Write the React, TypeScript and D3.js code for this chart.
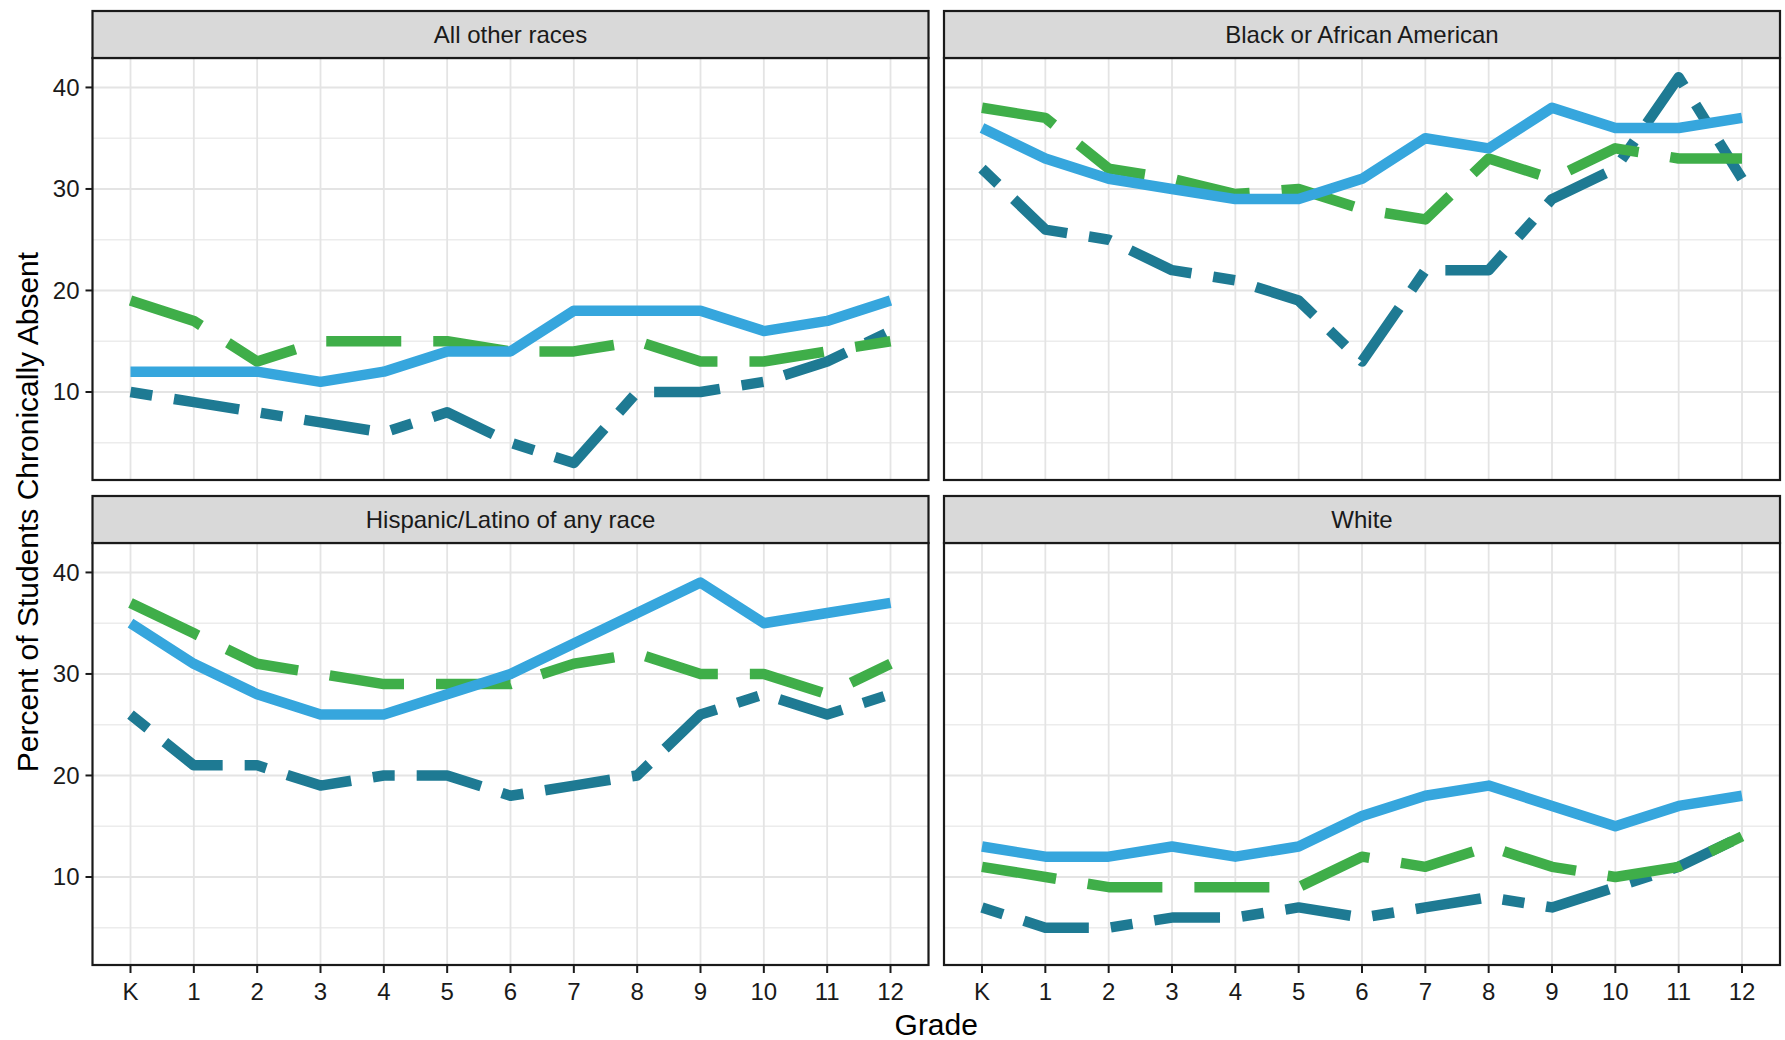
import React from "react";
import * as d3 from "d3";

// ---- Data ----
const grades = ["K", "1", "2", "3", "4", "5", "6", "7", "8", "9", "10", "11", "12"];
const races = ["All other races", "Black or African American", "Hispanic/Latino of any race", "White"];
const yTicks = [10, 20, 30, 40];
const yMinorTicks = [5, 15, 25, 35];

// solid light-blue series
const allOtherSolid = [12, 12, 12, 11, 12, 14, 14, 18, 18, 18, 16, 17, 19];
const blackSolid = [36, 33, 31, 30, 29, 29, 31, 35, 34, 38, 36, 36, 37];
const hispanicSolid = [35, 31, 28, 26, 26, 28, 30, 33, 36, 39, 35, 36, 37];
const whiteSolid = [13, 12, 12, 13, 12, 13, 16, 18, 19, 17, 15, 17, 18];

// long-dashed green series
const allOtherDashed = [19, 17, 13, 15, 15, 15, 14, 14, 15, 13, 13, 14, 15];
const blackDashed = [38, 37, 32, 31, 29.5, 30, 28, 27, 33, 31, 34, 33, 33];
const hispanicDashed = [37, 34, 31, 30, 29, 29, 29, 31, 32, 30, 30, 28, 31];
const whiteDashed = [11, 10, 9, 9, 9, 9, 12, 11, 13, 11, 10, 11, 14];

// two-dash teal series
const allOtherTwoDash = [10, 9, 8, 7, 6, 8, 5, 3, 10, 10, 11, 13, 16];
const blackTwoDash = [32, 26, 25, 22, 21, 19, 13, 22, 22, 29, 32, 41, 31];
const hispanicTwoDash = [26, 21, 21, 19, 20, 20, 18, 19, 20, 26, 28, 26, 28];
const whiteTwoDash = [7, 5, 5, 6, 6, 7, 6, 7, 8, 7, 9, 11, 14];

const panelSeries = [
  { teal: allOtherTwoDash, green: allOtherDashed, blue: allOtherSolid },
  { teal: blackTwoDash, green: blackDashed, blue: blackSolid },
  { teal: hispanicTwoDash, green: hispanicDashed, blue: hispanicSolid },
  { teal: whiteTwoDash, green: whiteDashed, blue: whiteSolid },
];

const seriesStyles = [
  { key: "teal", color: "#1e7a93", dash: "22 22 66 22" },
  { key: "green", color: "#3fae49", dash: "75 32" },
  { key: "blue", color: "#36a6dd", dash: null },
];

// ---- Layout ----
const W = 1785;
const H = 1040;
const cols = [
  { x0: 92.5, x1: 928.5 },
  { x0: 944, x1: 1780 },
];
const rows = [
  { stripTop: 11, top: 58, bottom: 480 },
  { stripTop: 496, top: 543, bottom: 965 },
];
const yDomain: [number, number] = [1.33, 42.9];
const FONT = "'Liberation Sans', Arial, Helvetica, sans-serif";
const LW = 10.5;

function Panel({ idx }: { idx: number }) {
  const col = cols[idx % 2];
  const row = rows[Math.floor(idx / 2)];
  const x = d3.scalePoint<string>().domain(grades).range([col.x0, col.x1]).padding(0.6);
  const y = d3.scaleLinear().domain(yDomain).range([row.bottom, row.top]);
  const data = panelSeries[idx] as any;
  const line = d3
    .line<number>()
    .x((_, i) => x(grades[i]) as number)
    .y((d) => y(d));
  const clipId = `clip${idx}`;
  const isLeft = idx % 2 === 0;
  const isBottom = idx >= 2;
  return (
    <g>
      <defs>
        <clipPath id={clipId}>
          <rect x={col.x0} y={row.top} width={col.x1 - col.x0} height={row.bottom - row.top} />
        </clipPath>
      </defs>
      <rect x={col.x0} y={row.top} width={col.x1 - col.x0} height={row.bottom - row.top} fill="#ffffff" />
      {yMinorTicks.map((t) => (
        <line key={"mi" + t} x1={col.x0} x2={col.x1} y1={y(t)} y2={y(t)} stroke="#ececec" strokeWidth={1.6} />
      ))}
      {yTicks.map((t) => (
        <line key={"ma" + t} x1={col.x0} x2={col.x1} y1={y(t)} y2={y(t)} stroke="#e4e4e4" strokeWidth={2} />
      ))}
      {grades.map((g) => (
        <line key={"v" + g} x1={x(g)} x2={x(g)} y1={row.top} y2={row.bottom} stroke="#e4e4e4" strokeWidth={1.8} />
      ))}
      <g clipPath={`url(#${clipId})`}>
        {seriesStyles.map((s) => (
          <path
            key={s.key}
            d={line(data[s.key]) as string}
            fill="none"
            stroke={s.color}
            strokeWidth={LW}
            strokeLinejoin="round"
            strokeLinecap="butt"
            strokeDasharray={s.dash ?? undefined}
          />
        ))}
      </g>
      <rect
        x={col.x0}
        y={row.top}
        width={col.x1 - col.x0}
        height={row.bottom - row.top}
        fill="none"
        stroke="#1a1a1a"
        strokeWidth={2.2}
      />
      {/* strip */}
      <rect
        x={col.x0}
        y={row.stripTop}
        width={col.x1 - col.x0}
        height={row.top - row.stripTop}
        fill="#d9d9d9"
        stroke="#1a1a1a"
        strokeWidth={2.2}
      />
      <text
        x={(col.x0 + col.x1) / 2}
        y={(row.stripTop + row.top) / 2}
        textAnchor="middle"
        dominantBaseline="central"
        fontFamily={FONT}
        fontSize={24}
        fill="#1a1a1a"
      >
        {races[idx]}
      </text>
      {isLeft &&
        yTicks.map((t) => (
          <g key={"yt" + t}>
            <line x1={col.x0 - 7} x2={col.x0} y1={y(t)} y2={y(t)} stroke="#1a1a1a" strokeWidth={2} />
            <text
              x={col.x0 - 13}
              y={y(t)}
              textAnchor="end"
              dominantBaseline="central"
              fontFamily={FONT}
              fontSize={24}
              fill="#1a1a1a"
            >
              {t}
            </text>
          </g>
        ))}
      {isBottom &&
        grades.map((g) => (
          <g key={"xt" + g}>
            <line x1={x(g)} x2={x(g)} y1={row.bottom} y2={row.bottom + 8} stroke="#1a1a1a" strokeWidth={2} />
            <text
              x={x(g)}
              y={row.bottom + 35}
              textAnchor="middle"
              fontFamily={FONT}
              fontSize={24}
              fill="#1a1a1a"
            >
              {g}
            </text>
          </g>
        ))}
    </g>
  );
}

export default function App() {
  return (
    <svg
      width={W}
      height={H}
      viewBox={`0 0 ${W} ${H}`}
      style={{ position: "absolute", left: 0, top: 0, background: "#ffffff" }}
    >
      <rect x={0} y={0} width={W} height={H} fill="#ffffff" />
      {[0, 1, 2, 3].map((i) => (
        <Panel key={i} idx={i} />
      ))}
      <text
        x={(cols[0].x0 + cols[1].x1) / 2}
        y={1035}
        textAnchor="middle"
        fontFamily={FONT}
        fontSize={30}
        fill="#000000"
      >
        Grade
      </text>
      <text
        transform={`translate(38, 512) rotate(-90)`}
        textAnchor="middle"
        fontFamily={FONT}
        fontSize={30}
        fill="#000000"
      >
        Percent of Students Chronically Absent
      </text>
    </svg>
  );
}
